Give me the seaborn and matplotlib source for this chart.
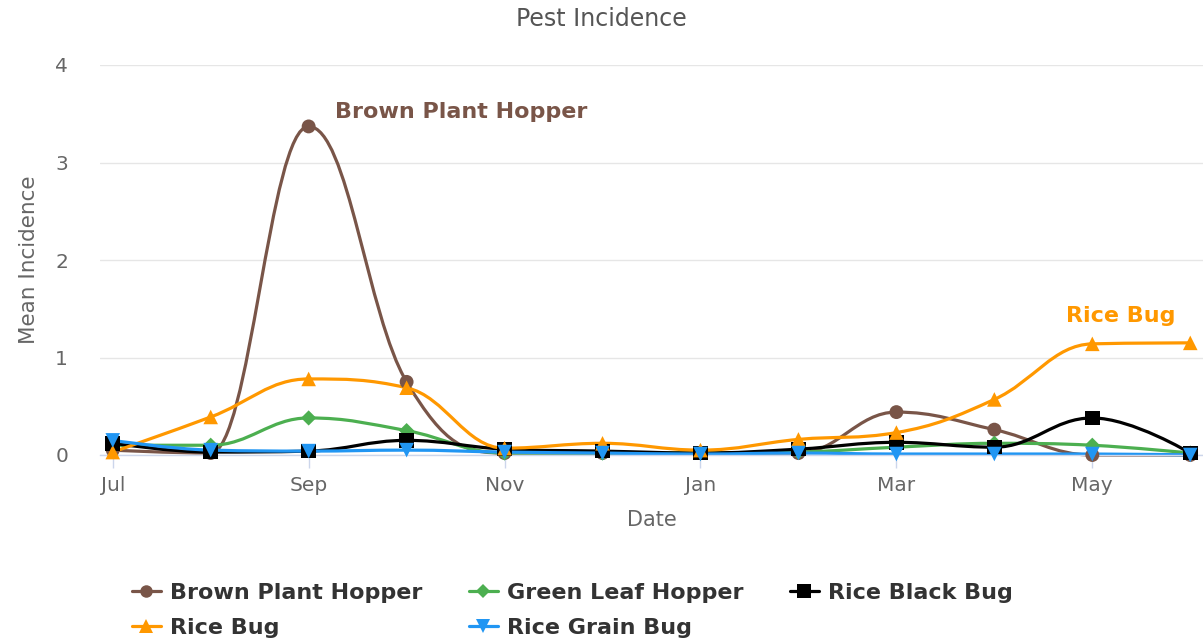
import numpy as np
import pandas as pd
import matplotlib
matplotlib.use("Agg")
import matplotlib.pyplot as plt
from matplotlib.path import Path
from matplotlib.patches import PathPatch
from matplotlib.lines import Line2D
import seaborn as sns

months = ["Jul", "Aug", "Sep", "Oct", "Nov", "Dec", "Jan", "Feb", "Mar", "Apr", "May", "Jun"]
tick_labels = ["Jul", "Sep", "Nov", "Jan", "Mar", "May"]

brown_plant_hopper = [0.05, 0.02, 3.37, 0.75, 0.02, 0.02, 0.02, 0.02, 0.44, 0.26, 0.00, 0.00]
green_leaf_hopper = [0.10, 0.10, 0.38, 0.25, 0.02, 0.02, 0.02, 0.03, 0.08, 0.12, 0.10, 0.02]
rice_black_bug = [0.12, 0.03, 0.04, 0.15, 0.06, 0.04, 0.02, 0.06, 0.13, 0.08, 0.38, 0.02]
rice_bug = [0.03, 0.39, 0.78, 0.69, 0.07, 0.12, 0.05, 0.16, 0.23, 0.57, 1.14, 1.15]
rice_grain_bug = [0.15, 0.05, 0.04, 0.05, 0.03, 0.02, 0.01, 0.02, 0.01, 0.01, 0.01, 0.00]

series = [
    ("Brown Plant Hopper", brown_plant_hopper, "#795548", "o", 100),
    ("Green Leaf Hopper", green_leaf_hopper, "#4caf50", "D", 60),
    ("Rice Black Bug", rice_black_bug, "#000000", "s", 110),
    ("Rice Bug", rice_bug, "#ff9800", "^", 110),
    ("Rice Grain Bug", rice_grain_bug, "#2196f3", "v", 110),
]


# Highcharts style spline: cubic bezier control points around each point
def spline_path(xs, ys, smoothing=1.5):
    n = len(xs)
    denom = smoothing + 1
    left = [None] * n
    right = [None] * n
    for i in range(n):
        if i == 0 or i == n - 1:
            left[i] = (xs[i], ys[i])
            right[i] = (xs[i], ys[i])
            continue
        px, py = xs[i], ys[i]
        lx, ly = xs[i - 1], ys[i - 1]
        nx, ny = xs[i + 1], ys[i + 1]
        lcx = (smoothing * px + lx) / denom
        lcy = (smoothing * py + ly) / denom
        rcx = (smoothing * px + nx) / denom
        rcy = (smoothing * py + ny) / denom
        if rcx != lcx:
            corr = ((rcy - lcy) * (rcx - px)) / (rcx - lcx) + py - rcy
            lcy += corr
            rcy += corr
        if lcy > ly and lcy > py:
            lcy = max(ly, py)
            rcy = 2 * py - lcy
        elif lcy < ly and lcy < py:
            lcy = min(ly, py)
            rcy = 2 * py - lcy
        if rcy > ny and rcy > py:
            rcy = max(ny, py)
            lcy = 2 * py - rcy
        elif rcy < ny and rcy < py:
            rcy = min(ny, py)
            lcy = 2 * py - rcy
        left[i] = (lcx, lcy)
        right[i] = (rcx, rcy)
    verts = [(xs[0], ys[0])]
    codes = [Path.MOVETO]
    for i in range(1, n):
        verts += [right[i - 1], left[i], (xs[i], ys[i])]
        codes += [Path.CURVE4] * 3
    return Path(verts, codes)


sns.set_theme(style="white")
plt.rcParams["font.family"] = ["DejaVu Sans"]

fig = plt.figure(figsize=(12.03, 6.41), dpi=100)
ax = fig.add_axes([100 / 1203, (641 - 455) / 641, 1103 / 1203, 390 / 641])

x = np.arange(len(months))
for name, vals, color, marker, size in series:
    patch = PathPatch(spline_path(list(x), vals), facecolor="none", edgecolor=color,
                      lw=2.3, clip_on=False, zorder=2, capstyle="round", joinstyle="round")
    ax.add_patch(patch)
    df = pd.DataFrame({"x": x, "y": vals})
    sns.scatterplot(data=df, x="x", y="y", ax=ax, color=color, marker=marker, s=size,
                    edgecolor="none", linewidth=0, clip_on=False, zorder=3, legend=False)

ax.set_xlim(-0.13, 11.13)
ax.set_ylim(0, 4)
ax.set_yticks([0, 1, 2, 3, 4])
ax.set_xticks(x[::2])
ax.set_xticklabels(tick_labels)
ax.grid(axis="y", color="#e6e6e6", lw=1)
ax.set_axisbelow(True)
for s in ["top", "right", "left"]:
    ax.spines[s].set_visible(False)
ax.spines["bottom"].set_color("#ccd6eb")
ax.spines["bottom"].set_linewidth(1)
ax.tick_params(axis="x", bottom=True, length=9, width=1, color="#ccd6eb",
               labelsize=14.5, labelcolor="#666666", pad=6)
ax.tick_params(axis="y", left=False, labelsize=14.5, labelcolor="#666666", pad=17)
ax.set_xlabel("Date", fontsize=15, color="#666666", labelpad=11)
ax.set_ylabel("Mean Incidence", fontsize=15.5, color="#666666", labelpad=12)

fig.text(0.5, 1 - 19 / 641, "Pest Incidence", ha="center", va="center",
         fontsize=17, color="#555555")

# series name labels
ax.text(2.27, 3.52, "Brown Plant Hopper", color="#795548",
        fontsize=16, fontweight="bold", va="center", ha="left")
ax.text(10.85, 1.43, "Rice Bug", color="#ff9800",
        fontsize=16, fontweight="bold", va="center", ha="right")

handles = {}
for name, vals, color, marker, size in series:
    handles[name] = Line2D([], [], color=color, marker=marker, lw=2.3,
                           markersize=np.sqrt(size) * 0.9, markeredgewidth=0)
order = ["Brown Plant Hopper", "Rice Bug", "Green Leaf Hopper", "Rice Grain Bug", "Rice Black Bug"]
leg = fig.legend([handles[n] for n in order], order, ncol=3, loc="upper left",
                 bbox_to_anchor=(112 / 1203, 1 - 563 / 641), frameon=False,
                 prop={"weight": "bold", "size": 16}, handlelength=1.3,
                 columnspacing=2.1, labelspacing=0.68, handletextpad=0.4)
for t in leg.get_texts():
    t.set_color("#333333")

fig.savefig("out.png", dpi=100)
